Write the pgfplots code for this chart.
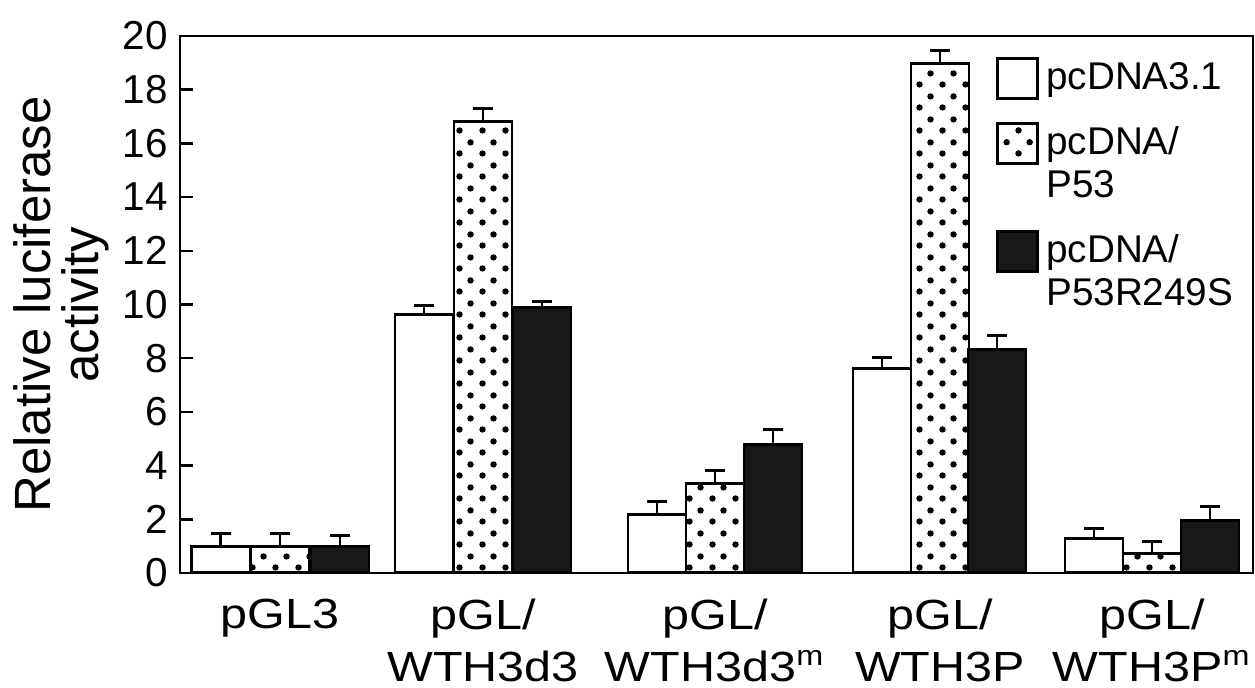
\documentclass[border=0pt]{standalone}
\usepackage{fontspec}
\setmainfont{Liberation Sans}
\newfontfamily\widefont{Liberation Sans}[FakeStretch=1.15]
\usepackage{pgfplots}
\pgfplotsset{compat=1.18}
\usetikzlibrary{patterns.meta}
\tikzdeclarepattern{
  name=bigdots,
  type=uncolored,
  bounding box={(0,0) and (2.25mm,2.3mm)},
  tile size={(2.25mm,2.3mm)},
  code={
    \fill (0.5625mm,0.575mm) circle (0.33mm);
    \fill (1.6875mm,1.725mm) circle (0.33mm);
  }
}
\definecolor{barblack}{HTML}{1A1817}
\pgfplotsset{
  boxlegend/.style={legend image code/.code={\draw[##1] (0mm,-2mm) rectangle (4mm,2mm);}},
  boxlegendtwo/.style={legend image code/.code={\draw[##1] (0mm,0.15mm) rectangle (4mm,4.15mm);}},
  mybar/.style={ybar, bar width=58, bar shift=0pt, draw=black, line width=0.85pt,
    error bars/y dir=plus, error bars/y explicit,
    error bars/error bar style={line width=0.85pt, black},
    error bars/error mark options={rotate=90, mark size=1mm, line width=0.85pt, black}},
}
\pgfplotstableread{
x y e
221 1.00 0.48
424 9.61 0.37
657 2.16 0.50
882 7.62 0.40
1094 1.27 0.40
}\tw
\pgfplotstableread{
x y e
280 1.00 0.48
483 16.81 0.50
715 3.34 0.47
940 18.98 0.47
1152 0.73 0.44
}\tp
\pgfplotstableread{
x y e
340 1.00 0.40
542 9.88 0.22
773 4.80 0.56
997 8.31 0.52
1210 1.97 0.50
}\tb
\begin{document}
\begin{tikzpicture}[x=1mm,y=1mm]
\path[use as bounding box] (-18,-11.5) rectangle (107.5,57.3);
\begin{axis}[
  at={(0,0)}, anchor=south west,
  scale only axis, width=107.3mm, height=53.7mm,
  xmin=180, xmax=1253, ymin=0, ymax=20,
  ytick={0,2,...,20},
  ytick pos=left,
  xtick={280,483,715,940,1152},
  xticklabels={pGL3, {pGL/\\WTH3d3}, {pGL/\\WTH3d3\textsuperscript{m}}, {pGL/\\WTH3P}, {pGL/\\WTH3P\textsuperscript{m}}},
  xticklabel style={align=center, font=\widefont\fontsize{12}{14.6}\selectfont, yshift=-1.4mm},
  x tick style={draw=none},
  tick align=inside,
  major tick length=1.3mm,
  ytick style={line width=0.7pt, black},
  yticklabel style={font=\fontsize{11.5}{13}\selectfont},
  /pgf/number format/assume math mode=true,
  axis line style={line width=0.7pt, black},
  ylabel={Relative luciferase\\activity},
  ylabel style={align=center, font=\fontsize{14.5}{13.6}\selectfont, at={(axis description cs:-0.0652,0.5)}, anchor=south, inner sep=0pt},
  legend style={draw=none, fill=none, at={(axis cs:985,19.55)}, anchor=north west,
    nodes={align=left, font=\fontsize{11}{12.2}\selectfont}, row sep=5pt},
  legend cell align=left,
]
\addplot[mybar, fill=white, boxlegend] table[x=x,y=y,y error=e] {\tw};
\addlegendentry{pcDNA3.1}
\addplot[mybar, fill=white, postaction={pattern=bigdots}, boxlegendtwo] table[x=x,y=y,y error=e] {\tp};
\addlegendentry{pcDNA/\\P53}
\addplot[mybar, fill=barblack, boxlegendtwo] table[x=x,y=y,y error=e] {\tb};
\addlegendentry{pcDNA/\\P53R249S}
\end{axis}
\end{tikzpicture}
\end{document}
